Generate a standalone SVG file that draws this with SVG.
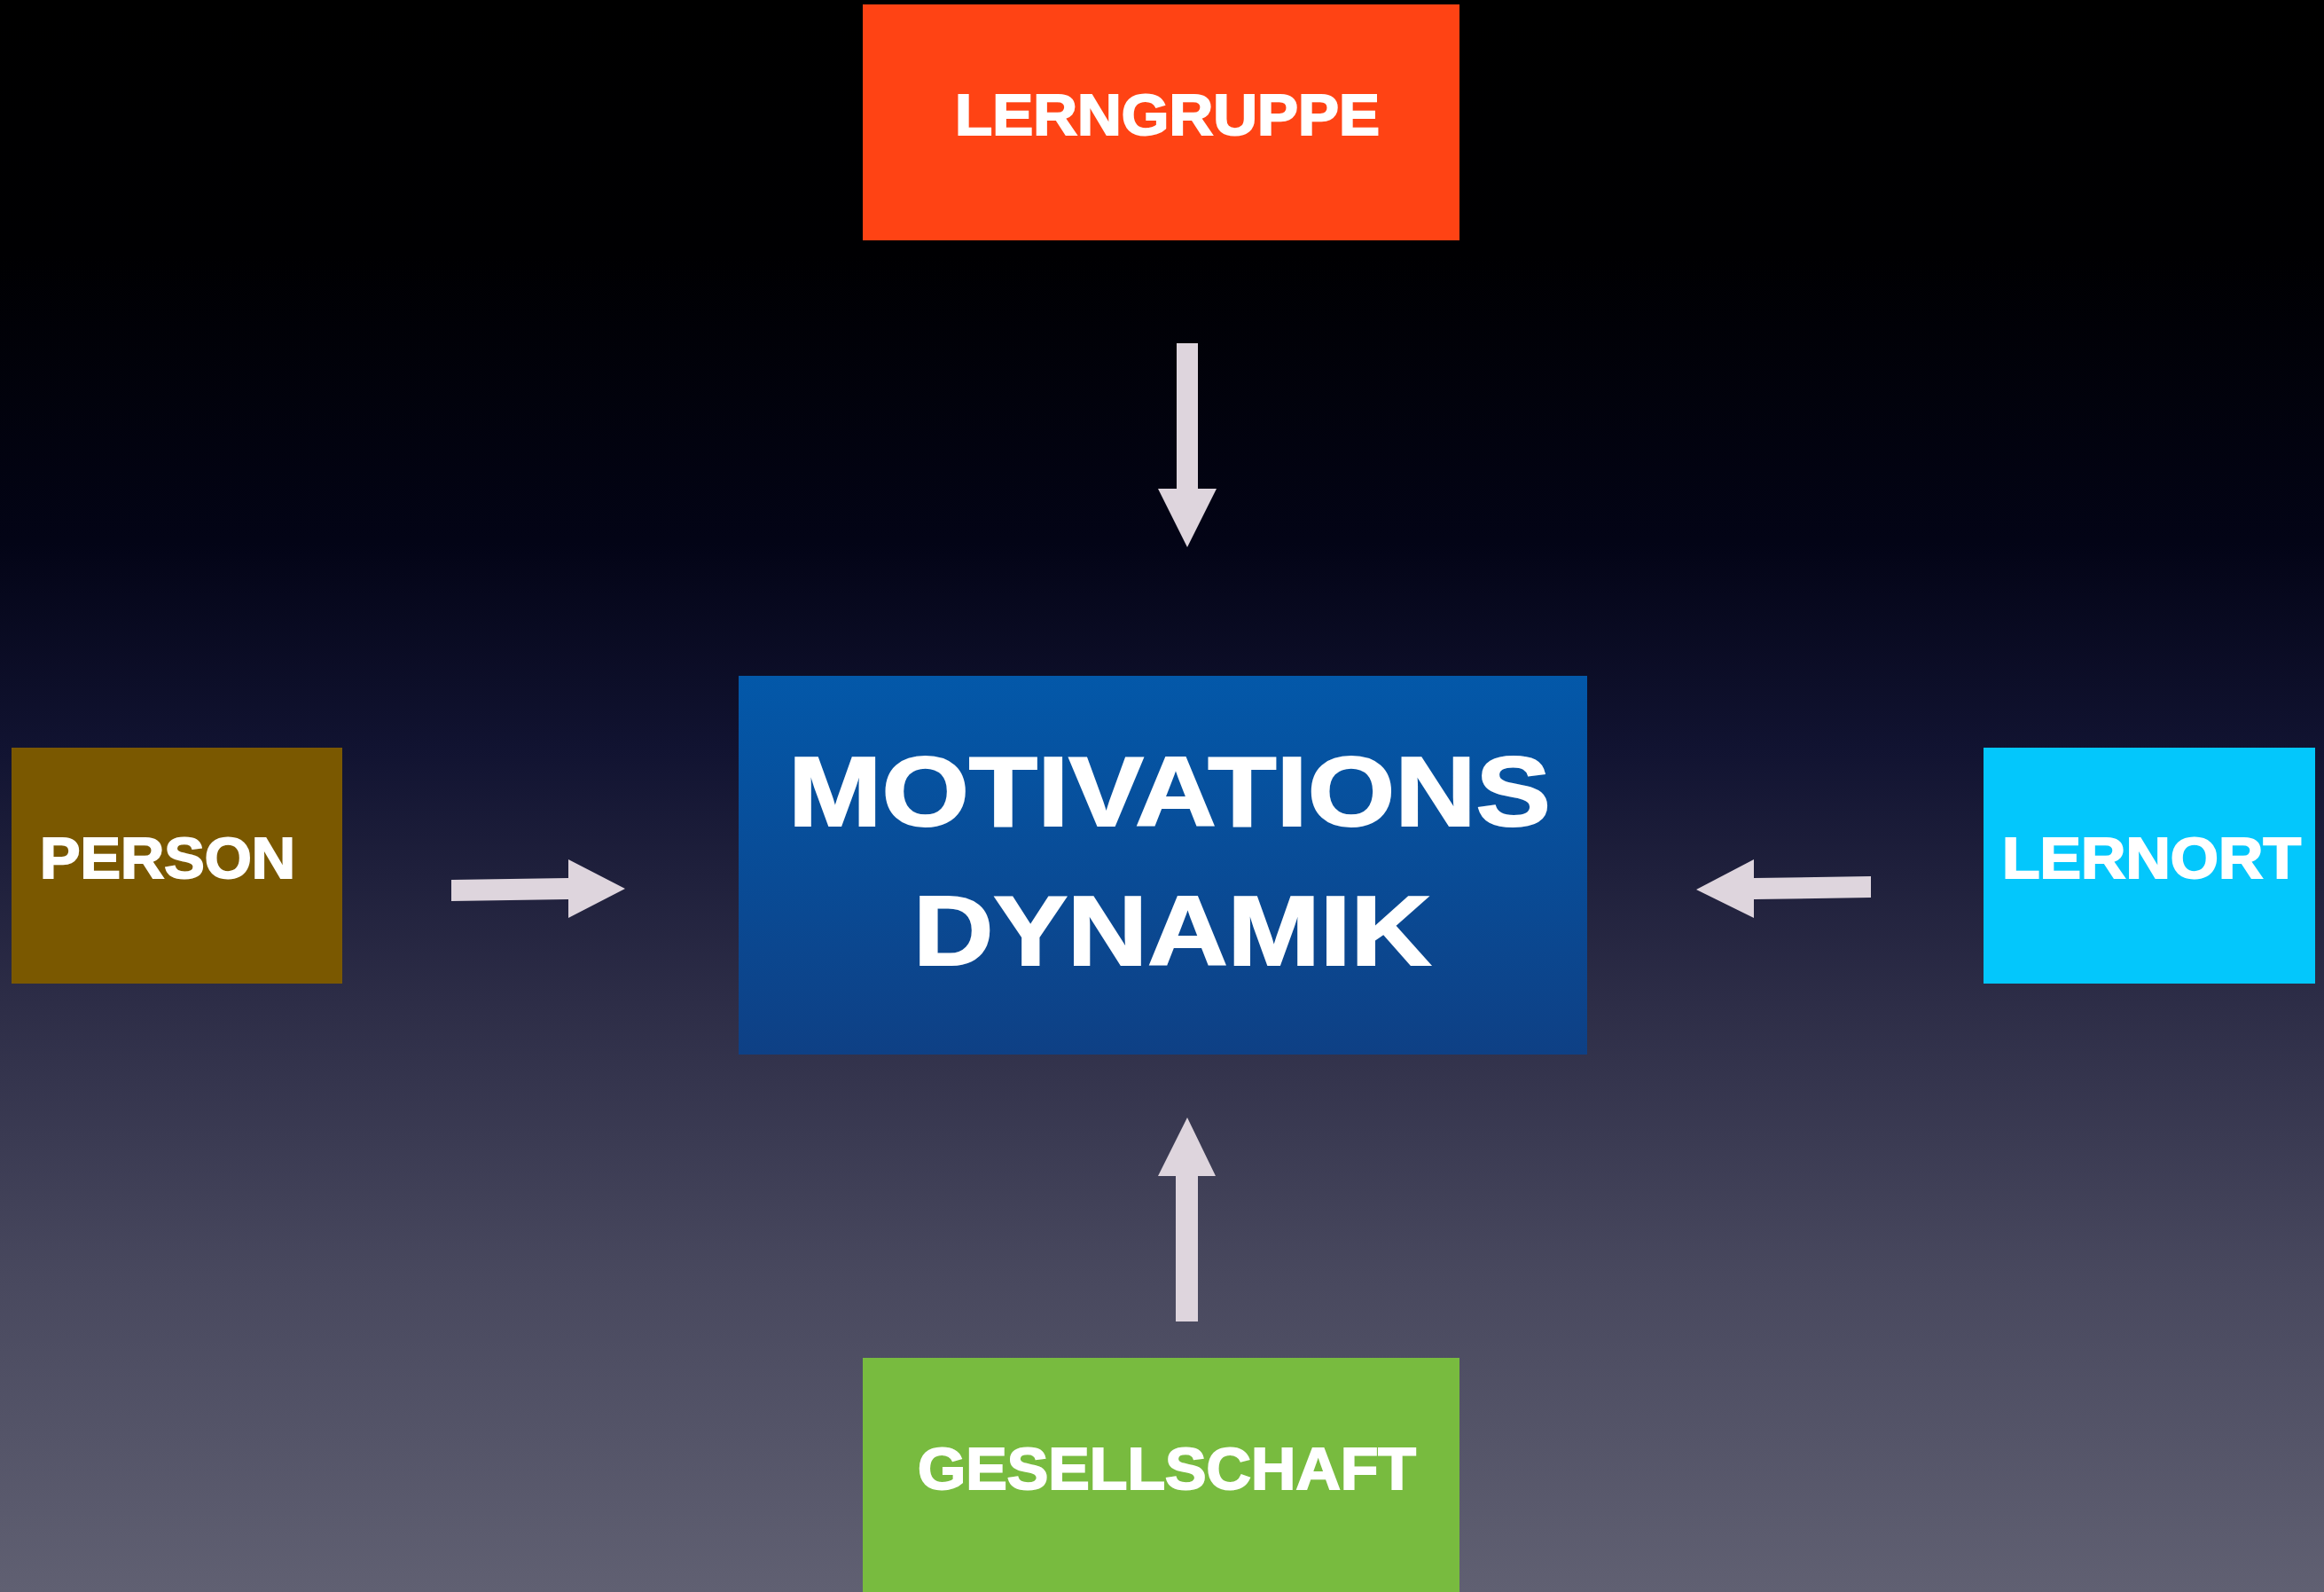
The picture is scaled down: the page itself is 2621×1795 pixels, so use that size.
<svg xmlns="http://www.w3.org/2000/svg" width="2621" height="1795" viewBox="0 0 2621 1795">
<defs>
<linearGradient id="bg" x1="0" y1="0" x2="0" y2="1">
<stop offset="0" stop-color="#000000"/>
<stop offset="0.16" stop-color="#000002"/>
<stop offset="0.34" stop-color="#030416"/>
<stop offset="0.47" stop-color="#111331"/>
<stop offset="0.63" stop-color="#2d2d47"/>
<stop offset="0.8" stop-color="#48485e"/>
<stop offset="1" stop-color="#606072"/>
</linearGradient>
<linearGradient id="center" x1="0" y1="0" x2="0" y2="1">
<stop offset="0" stop-color="#0358a9"/>
<stop offset="1" stop-color="#0e4085"/>
</linearGradient>
<style>
.lbl{font-family:"Liberation Sans",Arial,sans-serif;font-weight:bold;fill:#ffffff;stroke:#ffffff;stroke-width:2;stroke-linejoin:miter}
.arrow{fill:#ded5dd}
</style>
</defs>
<rect x="0" y="0" width="2621" height="1795" fill="url(#bg)"/>
<g id="connectors">
<polygon class="arrow" points="1327,387 1351,387 1351,551 1372,551 1339,617 1306,551 1327,551"/>
<polygon class="arrow" points="509,992 641,990 641,969 705,1002 641,1035 641,1014 509,1016"/>
<polygon class="arrow" points="2110,988 1978,990 1978,969 1913,1003 1978,1035 1978,1014 2110,1012"/>
<polygon class="arrow" points="1326,1490 1351,1490 1351,1326 1371,1326 1339,1260 1306,1326 1326,1326"/>
</g>
<g id="lerngruppe">
<rect x="973" y="5" width="673" height="266" fill="#ff4314"/>
<text class="lbl" x="1077" y="152" font-size="64" textLength="479" lengthAdjust="spacingAndGlyphs">LERNGRUPPE</text>
</g>
<g id="motivationsdynamik">
<rect x="833" y="762" width="957" height="427" fill="url(#center)"/>
<text class="lbl" x="889" y="931" font-size="112" textLength="860" lengthAdjust="spacingAndGlyphs">MOTIVATIONS</text>
<text class="lbl" x="1030" y="1088" font-size="112" textLength="584" lengthAdjust="spacingAndGlyphs">DYNAMIK</text>
</g>
<g id="person">
<rect x="13" y="843" width="373" height="266" fill="#7a5800"/>
<text class="lbl" x="45" y="990" font-size="65" textLength="288" lengthAdjust="spacingAndGlyphs">PERSON</text>
</g>
<g id="lernort">
<rect x="2237" y="843" width="374" height="266" fill="#03c7fc"/>
<text class="lbl" x="2258" y="990" font-size="65" textLength="337" lengthAdjust="spacingAndGlyphs">LERNORT</text>
</g>
<g id="gesellschaft">
<rect x="973" y="1531" width="673" height="264" fill="#78bb3f"/>
<text class="lbl" x="1035" y="1679" font-size="66" textLength="562" lengthAdjust="spacingAndGlyphs">GESELLSCHAFT</text>
</g>
</svg>
